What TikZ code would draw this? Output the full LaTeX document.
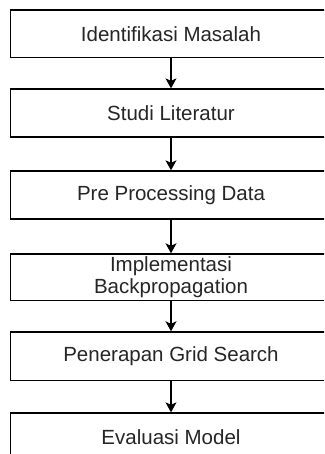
\documentclass[tikz,border=0pt]{standalone}
\usepackage{fontspec}
\setmainfont{Liberation Sans}
\usetikzlibrary{arrows.meta}
\tikzset{
  stepbox/.style={draw=black, line width=1.3pt, rectangle, minimum width=321pt,
    inner sep=0pt, align=center, text=black!85,
    font=\fontsize{20.5}{22.6}\selectfont},
  flow/.style={draw=black, line width=1.2pt,
    -{Stealth[length=10pt,width=11pt,inset=2.5pt]}}
}
\begin{document}
\begin{tikzpicture}[x=1pt,y=1pt]
  \useasboundingbox (0,0) rectangle (324,-454);
  \clip (0,0) rectangle (324,-454);
  \fill[white] (0,0) rectangle (324,-454);
  \node[stepbox, minimum height=47.8pt] (s1) at (171,-33.8) {Identifikasi Masalah};
  \node[stepbox, minimum height=48pt] (s2) at (171,-113) {Studi Literatur};
  \node[stepbox, minimum height=48pt] (s3) at (171,-195) {Pre Processing Data};
  \node[stepbox, minimum height=46.5pt] (s4) at (171,-277.2) {Implementasi\\Backpropagation};
  \node[stepbox, minimum height=48.7pt] (s5) at (171,-356.3) {Penerapan Grid Search};
  \node[stepbox, minimum height=48pt] (s6) at (171,-437) {Evaluasi Model};
  \draw[flow] (s1.south) -- (s2.north);
  \draw[flow] (s2.south) -- (s3.north);
  \draw[flow] (s3.south) -- (s4.north);
  \draw[flow] (s4.south) -- (s5.north);
  \draw[flow] (s5.south) -- (s6.north);
\end{tikzpicture}
\end{document}
